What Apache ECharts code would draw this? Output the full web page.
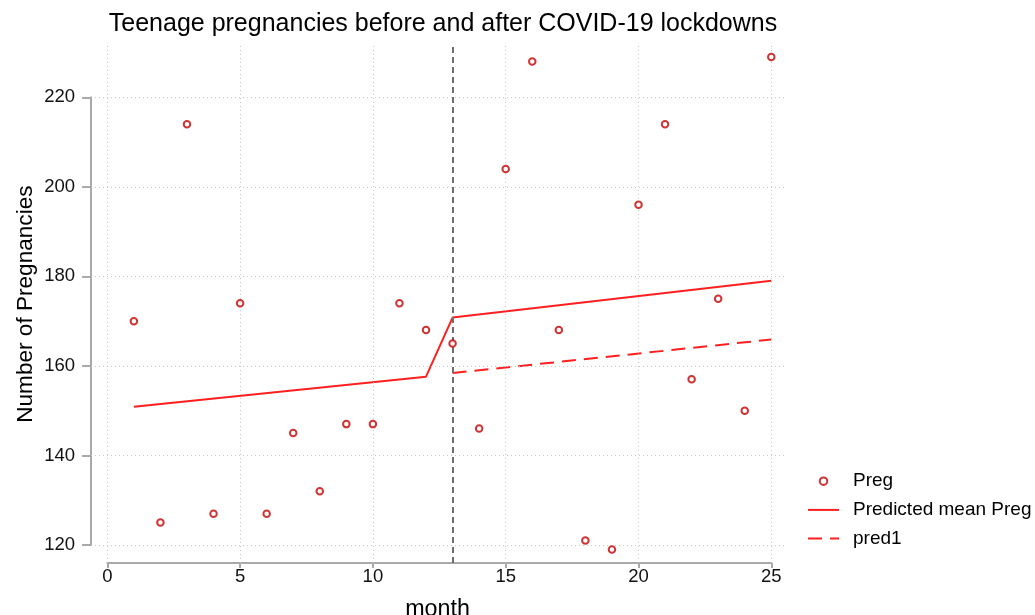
<!DOCTYPE html>
<html>
<head>
<meta charset="utf-8">
<script src="https://cdn.jsdelivr.net/npm/echarts@6/dist/echarts.min.js"></script>
<style>
html,body{margin:0;padding:0;background:#fff;}
#chart{width:1035px;height:615px;}
</style>
</head>
<body>
<div id="chart"></div>
<script>
// ---- data ----
const months = [1,2,3,4,5,6,7,8,9,10,11,12,13,14,15,16,17,18,19,20,21,22,23,24,25];
const preg   = [170,125,214,127,174,127,145,132,147,147,174,168,165,146,204,228,168,121,119,196,214,157,175,150,229];
const predMonths = [1,12,13,25];
const predMean   = [150.9,157.6,170.8,179.0];
const pred1Months = [13,25];
const pred1      = [158.4,165.9];
const xTicks = [0,5,10,15,20,25];
const yTicks = [120,140,160,180,200,220];
const interruption = 13;

// ---- layout (pixels) ----
const PX_X0 = 107.3, PX_X1 = 771.3;   // x = 0 .. 25
const PX_Y1 = 97.3,  PX_Y0 = 545;     // y = 220 .. 120
const xMinA = -0.61, xMaxA = 25.48, yMinA = 116, yMaxA = 231.6;
const xs = (PX_X1 - PX_X0) / (xTicks[xTicks.length-1] - xTicks[0]);
const ys = (PX_Y0 - PX_Y1) / (yTicks[yTicks.length-1] - yTicks[0]);
const gA = {
  left: PX_X0 + (xMinA - xTicks[0]) * xs,
  width: (xMaxA - xMinA) * xs,
  top: PX_Y1 - (yMaxA - yTicks[yTicks.length-1]) * ys,
  height: (yMaxA - yMinA) * ys
};
const gB = { left: PX_X0, width: PX_X1 - PX_X0, top: PX_Y1, height: PX_Y0 - PX_Y1 };
const offX = (gA.top + gA.height) - (gB.top + gB.height);
const offY = gB.left - gA.left;

const FONT = '"Liberation Sans", Arial, Helvetica, sans-serif';
const axisGrey = '#a9a9a9';
const lineRed = '#ff1f1f';
const dotRed = '#c40000';

const chart = echarts.init(document.getElementById('chart'), null, {renderer:'canvas'});

const gridLineStyle = { color:'#c4c4c4', width:1, type:[1,3] };
const noSymbol = { color:'rgba(0,0,0,0)', borderWidth:0, opacity:0 };

const option = {
  animation: false,
  backgroundColor: '#fff',
  textStyle: { fontFamily: FONT },
  title: {
    text: 'Teenage pregnancies before and after COVID-19 lockdowns',
    left: 438,
    textAlign: 'center',
    top: 7,
    textStyle: { fontFamily: FONT, fontSize: 25, fontWeight: 'normal', color: '#000' }
  },
  legend: {
    orient: 'vertical',
    left: 802,
    top: 466.7,
    itemWidth: 31,
    itemHeight: 7.5,
    itemGap: 9.7,
    textStyle: { fontFamily: FONT, fontSize: 19, color: '#000', lineHeight: 18, padding: [0,0,0,9] },
    data: [
      { name:'Preg' },
      { name:'Predicted mean Preg', itemStyle: noSymbol },
      { name:'pred1', itemStyle: noSymbol }
    ]
  },
  grid: [
    { left: gA.left, top: gA.top, width: gA.width, height: gA.height, containLabel: false, outerBoundsMode: 'none' },
    { left: gB.left, top: gB.top, width: gB.width, height: gB.height, containLabel: false, outerBoundsMode: 'none' }
  ],
  xAxis: [
    { type:'value', gridIndex:0, min:xMinA, max:xMaxA,
      axisLine:{show:false, onZero:false}, axisTick:{show:false}, axisLabel:{show:false}, splitLine:{show:false},
      name:'month', nameLocation:'middle', nameGap:35,
      nameTextStyle:{fontFamily:FONT, fontSize:23.3, color:'#000'} },
    { type:'value', gridIndex:1, min:xTicks[0], max:xTicks[xTicks.length-1], interval:5,
      position:'bottom', offset: offX,
      axisLine:{show:true, onZero:false, lineStyle:{color:axisGrey, width:2}},
      axisTick:{show:true, length:5, lineStyle:{color:axisGrey, width:2}},
      axisLabel:{show:true, margin:4, fontFamily:FONT, fontSize:18.5, color:'#111'},
      splitLine:{show:false} }
  ],
  yAxis: [
    { type:'value', gridIndex:0, min:yMinA, max:yMaxA,
      axisLine:{show:false, onZero:false}, axisTick:{show:false}, axisLabel:{show:false}, splitLine:{show:false},
      name:'Number of Pregnancies', nameLocation:'middle', nameGap:54,
      nameTextStyle:{fontFamily:FONT, fontSize:22.6, color:'#000'} },
    { type:'value', gridIndex:1, min:yTicks[0], max:yTicks[yTicks.length-1], interval:20,
      position:'left', offset: offY,
      axisLine:{show:true, onZero:false, lineStyle:{color:axisGrey, width:2}},
      axisTick:{show:true, length:9, lineStyle:{color:axisGrey, width:2}},
      axisLabel:{show:true, margin:16, fontFamily:FONT, fontSize:18.5, color:'#111'},
      splitLine:{show:false} }
  ],
  series: [
    {
      name:'__grid', type:'line', xAxisIndex:0, yAxisIndex:0, data:[], silent:true, z:1,
      markLine:{
        silent:true, symbol:['none','none'], label:{show:false}, animation:false,
        lineStyle: gridLineStyle,
        data: xTicks.map(v => ({xAxis:v})).concat(yTicks.map(v => ({yAxis:v})))
      }
    },
    {
      name:'__interruption', type:'line', xAxisIndex:0, yAxisIndex:0, data:[], silent:true, z:2,
      markLine:{
        silent:true, symbol:['none','none'], label:{show:false}, animation:false,
        lineStyle:{color:'#6e6e6e', width:2, type:[6,4]},
        data:[{xAxis:interruption}]
      }
    },
    {
      name:'Preg', type:'scatter', xAxisIndex:0, yAxisIndex:0, z:5,
      symbol:'emptyCircle', symbolSize:6.5,
      itemStyle:{color:dotRed, borderColor:dotRed, borderWidth:2},
      data: months.map((m,i) => [m, preg[i]])
    },
    {
      name:'Predicted mean Preg', type:'line', xAxisIndex:0, yAxisIndex:0, z:4,
      symbol:'none', color:lineRed,
      lineStyle:{color:lineRed, width:2},
      data: predMonths.map((m,i) => [m, predMean[i]])
    },
    {
      name:'pred1', type:'line', xAxisIndex:0, yAxisIndex:0, z:4,
      symbol:'none', color:lineRed,
      lineStyle:{color:lineRed, width:2, type:[14,8]},
      data: pred1Months.map((m,i) => [m, pred1[i]])
    }
  ]
};
chart.setOption(option);
</script>
</body>
</html>
